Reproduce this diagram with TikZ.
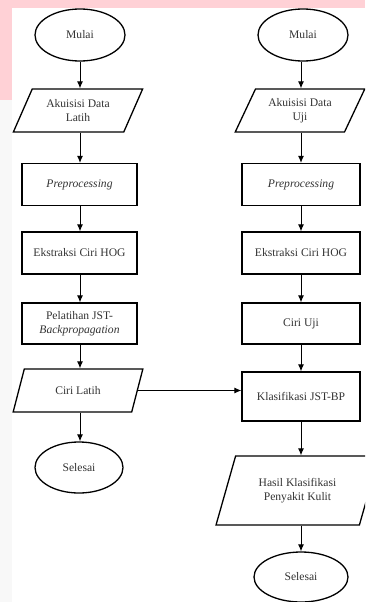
\documentclass[tikz,border=0pt]{standalone}
\usepackage{fontspec}
\setmainfont{Liberation Serif}
\usetikzlibrary{shapes.geometric,arrows.meta}
\definecolor{pinkbg}{HTML}{FFD1D6}
\definecolor{graybg}{HTML}{F8F8F8}
\definecolor{txt}{HTML}{333333}
\begin{document}
\begin{tikzpicture}[x=1pt,y=-1pt,
  every node/.style={font=\fontsize{11.6}{14.5}\selectfont, text=txt, align=center, inner sep=0pt},
  term/.style={ellipse, draw, line width=1.3pt, minimum width=#1, minimum height=52},
  term/.default=90,
  proc/.style={rectangle, draw, line width=1.3pt, minimum width=#1, minimum height=42},
  proc/.default=115,
  io/.style={trapezium, trapezium left angle=60, trapezium right angle=120, trapezium stretches=true, draw, line width=1.3pt, minimum width=130, minimum height=43},
  arr/.style={-{Latex[length=7pt,width=6pt]}, line width=0.9pt}
]
\clip (0,0) rectangle (365,602);
\fill[white] (0,0) rectangle (365,602);
\fill[pinkbg] (0,0) rectangle (365,8);
\fill[pinkbg] (0,0) rectangle (12,100);
\fill[graybg] (0,100) rectangle (12,602);

% left column
\node[term] (m1) at (80,35) {Mulai};
\node[io] (a1) at (78,110.5) {Akuisisi Data\\Latih};
\node[proc] (p1) at (79.5,184.5) {\textit{Preprocessing}};
\node[proc] (e1) at (79.5,253) {Ekstraksi Ciri HOG};
\node[proc, minimum height=41] (l1) at (79.5,323.5) {Pelatihan JST-\\\textit{Backpropagation}};
\node[io] (c1) at (78,390.5) {Ciri Latih};
\node[term=88, minimum height=51] (s1) at (79,467.5) {Selesai};

% right column
\node[term] (m2) at (303,35) {Mulai};
\node[io] (a2) at (300,110.5) {Akuisisi Data\\Uji};
\node[proc=118] (p2) at (301,184.5) {\textit{Preprocessing}};
\node[proc=118] (e2) at (301,253) {Ekstraksi Ciri HOG};
\node[proc=118, minimum height=41] (u2) at (301,323.5) {Ciri Uji};
\node[proc=118, minimum height=49] (k2) at (301,396.5) {Klasifikasi JST-BP};
\node[io, trapezium left angle=64, trapezium right angle=116, minimum width=163, minimum height=69] (h2) at (297.5,490.5) {Hasil Klasifikasi\\Penyakit Kulit};
\node[term=94, minimum height=50] (s2) at (301,577) {Selesai};

% connectors left
\draw[arr] (m1.south) -- (m1.south |- a1.north);
\draw[arr] (a1.south -| m1.south) -- (p1.north -| m1.south);
\draw[arr] (p1.south -| m1.south) -- (e1.north -| m1.south);
\draw[arr] (e1.south -| m1.south) -- (l1.north -| m1.south);
\draw[arr] (l1.south -| m1.south) -- (c1.north -| m1.south);
\draw[arr] (c1.south -| m1.south) -- (s1.north -| m1.south);
\draw[arr] (c1.east) -- (c1.east -| k2.west);

% connectors right
\draw[arr] (m2.south -| p2.north) -- (a2.north -| p2.north);
\draw[arr] (a2.south -| p2.north) -- (p2.north);
\draw[arr] (p2.south) -- (e2.north);
\draw[arr] (e2.south) -- (u2.north);
\draw[arr] (u2.south) -- (k2.north);
\draw[arr] (k2.south) -- (h2.north -| k2.south);
\draw[arr] (h2.south -| k2.south) -- (s2.north);
\end{tikzpicture}
\end{document}
